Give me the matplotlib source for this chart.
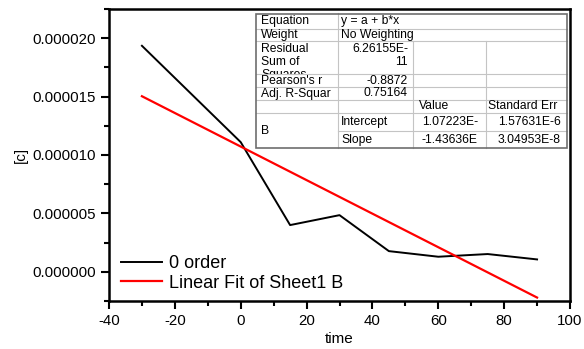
import numpy as np
import matplotlib.pyplot as plt
from matplotlib.patches import Rectangle
from matplotlib.ticker import MultipleLocator, FormatStrFormatter

plt.rcParams['font.family'] = ['Liberation Sans', 'DejaVu Sans']
plt.rcParams['axes.unicode_minus'] = False

# Measured concentration
time = [-30, 0, 15, 30, 45, 60, 75, 90]
conc = [19.35e-6, 11.1e-6, 4.0e-6, 4.85e-6, 1.77e-6, 1.29e-6, 1.52e-6, 1.06e-6]

# Linear fit results, y = a + b*x
intercept = 1.07223e-5
slope = -1.43636e-7
fit_x = np.array([-30.0, 90.0])
fit_y = intercept + slope * fit_x

# Fit report cells
report_labels = ["Equation", "Weight", "Residual\nSum of\nSquares", "Pearson's r", "Adj. R-Squar"]
report_values = ["y = a + b*x", "No Weighting", "6.26155E-\n11", "-0.8872", "0.75164"]
param_header = ["Value", "Standard Err"]
param_names = ["Intercept", "Slope"]
param_values = ["1.07223E-", "-1.43636E"]
param_errors = ["1.57631E-6", "3.04953E-8"]

W, H = 584, 349
fig = plt.figure(figsize=(W / 100, H / 100), dpi=100)
ax = fig.add_axes([109 / W, 48 / H, 461 / W, 292 / H])

ax.plot(time, conc, color='black', lw=1.4, label='0 order')
ax.plot(fit_x, fit_y, color='red', lw=1.6, label='Linear Fit of Sheet1 B')

ax.set_xlim(-40, 100)
ax.set_ylim(-2.5e-6, 22.5e-6)
ax.xaxis.set_major_locator(MultipleLocator(20))
ax.xaxis.set_minor_locator(MultipleLocator(10))
ax.yaxis.set_major_locator(MultipleLocator(5e-6))
ax.yaxis.set_minor_locator(MultipleLocator(2.5e-6))
ax.yaxis.set_major_formatter(FormatStrFormatter('%.6f'))
ax.tick_params(which='both', direction='out', width=1.5, labelsize=10.8, top=False, right=False)
ax.tick_params(which='major', length=6)
ax.tick_params(which='minor', length=3.5)
for sp in ax.spines.values():
    sp.set_linewidth(1.8)

ax.set_xlabel('time', fontsize=11, labelpad=3)
ax.set_ylabel('[c]', fontsize=11, labelpad=3)

ax.legend(loc='lower left', bbox_to_anchor=(0.0, -0.008), frameon=False, fontsize=13,
          handlelength=2.3, handletextpad=0.4, labelspacing=0.15, borderaxespad=0.35,
          borderpad=0.3)

# Fit report table, drawn in pixel coordinates
cols = [256, 338, 413, 486, 567]
rows = [13.5, 29, 41, 74.5, 87, 100, 113, 131.5, 148.5]
tax = fig.add_axes([cols[0] / W, 1 - rows[-1] / H, (cols[-1] - cols[0]) / W, (rows[-1] - rows[0]) / H])
tax.set_xlim(cols[0], cols[-1])
tax.set_ylim(rows[-1], rows[0])
tax.axis('off')
tax.add_patch(Rectangle((cols[0], rows[0]), cols[-1] - cols[0], rows[-1] - rows[0],
                        facecolor='white', edgecolor='none', zorder=0))

inner = dict(color='#c4c4c4', lw=0.8, clip_on=False, zorder=1)
for r in rows[1:7]:
    tax.plot([cols[0], cols[-1]], [r, r], **inner)
tax.plot([cols[1], cols[-1]], [rows[7], rows[7]], **inner)
tax.plot([cols[1], cols[1]], [rows[0], rows[-1]], **inner)
for c in cols[2:4]:
    tax.plot([c, c], [rows[2], rows[-1]], **inner)
tax.add_patch(Rectangle((cols[0], rows[0]), cols[-1] - cols[0], rows[-1] - rows[0],
                        facecolor='none', edgecolor='#6e6e6e', lw=1.2, clip_on=False, zorder=2))

fs = 8.7
pad = 5
for i, (lab, val) in enumerate(zip(report_labels, report_values)):
    top, bot = rows[i], rows[i + 1]
    mid = (top + bot) / 2
    if '\n' in lab:
        # long label is cut off at the cell edge
        clip = Rectangle((cols[0], top), cols[1] - cols[0], bot - top - 1, transform=tax.transData)
        t = tax.text(cols[0] + pad, top + 1.5, lab, ha='left', va='top', fontsize=fs,
                     linespacing=1.15, clip_on=True)
        t.set_clip_path(clip)
    else:
        tax.text(cols[0] + pad, mid, lab, ha='left', va='center', fontsize=fs)
    if i < 2:
        tax.text(cols[1] + 3, mid, val, ha='left', va='center', fontsize=fs)
    elif '\n' in val:
        tax.text(cols[2] - pad, top + 1.5, val, ha='right', va='top', fontsize=fs,
                 linespacing=1.15, multialignment='right')
    else:
        tax.text(cols[2] - pad, mid, val, ha='right', va='center', fontsize=fs)

hmid = (rows[5] + rows[6]) / 2
tax.text(cols[2] + 6, hmid, param_header[0], ha='left', va='center', fontsize=fs)
tax.text(cols[3] + 2, hmid, param_header[1], ha='left', va='center', fontsize=fs)
tax.text(cols[0] + pad, (rows[6] + rows[8]) / 2, 'B', ha='left', va='center', fontsize=fs)
for j in range(2):
    mid = (rows[6 + j] + rows[7 + j]) / 2
    tax.text(cols[1] + 3, mid, param_names[j], ha='left', va='center', fontsize=fs)
    tax.text(cols[3] - 8, mid, param_values[j], ha='right', va='center', fontsize=fs)
    tax.text(cols[4] - 6, mid, param_errors[j], ha='right', va='center', fontsize=fs)

fig.savefig('out.png', dpi=100)
